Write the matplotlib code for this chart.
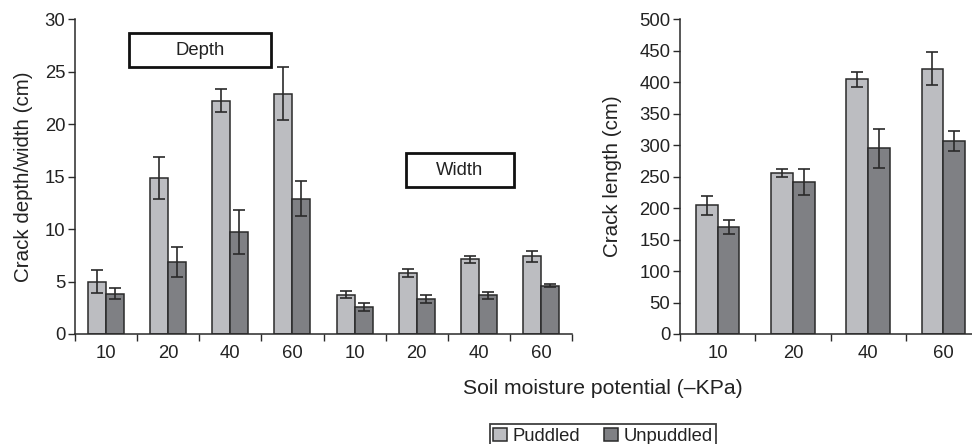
import matplotlib
matplotlib.use("Agg")
import matplotlib.pyplot as plt
from matplotlib.patches import Rectangle, Patch
import numpy as np

plt.rcParams['font.family'] = ['Liberation Sans', 'DejaVu Sans']

# ---- data ----
left_labels = ["10", "20", "40", "60", "10", "20", "40", "60"]
left_puddled = [5.0, 14.9, 22.2, 22.9, 3.75, 5.8, 7.1, 7.4]
left_puddled_err = [1.1, 2.0, 1.1, 2.5, 0.3, 0.38, 0.33, 0.5]
left_unpuddled = [3.85, 6.85, 9.7, 12.9, 2.6, 3.35, 3.7, 4.6]
left_unpuddled_err = [0.5, 1.4, 2.1, 1.7, 0.4, 0.4, 0.33, 0.12]

right_labels = ["10", "20", "40", "60"]
right_puddled = [204, 255, 404, 421]
right_puddled_err = [15, 6.5, 12.5, 26.5]
right_unpuddled = [170, 241, 295, 307]
right_unpuddled_err = [11.5, 21, 31, 16]

c_pud = "#bcbdc1"
c_unp = "#7f8084"
edge = "#2a2a2a"
txt = "#222222"

W, H = 972, 444
fig = plt.figure(figsize=(W / 100, H / 100), dpi=100)

axL = fig.add_axes([75 / W, 1 - 334 / H, 497 / W, 315 / H])
axR = fig.add_axes([680 / W, 1 - 334 / H, 301 / W, 315 / H])

def draw(ax, labels, p, pe, u, ue, ymax, ystep):
    x = np.arange(len(labels))
    bw = 0.29
    ekw = dict(ecolor=edge, elinewidth=1.2, capsize=4, capthick=1.2)
    ax.bar(x - bw / 2, p, bw, color=c_pud, edgecolor=edge, linewidth=1.1,
           yerr=pe, error_kw=ekw, zorder=2)
    ax.bar(x + bw / 2, u, bw, color=c_unp, edgecolor=edge, linewidth=1.1,
           yerr=ue, error_kw=ekw, zorder=2)
    ax.set_xlim(-0.5, len(labels) - 0.5)
    ax.set_ylim(0, ymax)
    ax.set_yticks(np.arange(0, ymax + 1, ystep))
    ax.set_xticks(x)
    ax.set_xticklabels(labels)
    ax.set_xticks(np.arange(len(labels) + 1) - 0.5, minor=True)
    ax.tick_params(axis='x', which='major', length=0, pad=8,
                   labelsize=13.3, colors=txt)
    ax.tick_params(axis='x', which='minor', length=5, width=1, direction='out',
                   color=edge)
    ax.tick_params(axis='y', length=5, width=1, direction='out',
                   labelsize=13.3, colors=txt, color=edge, pad=2)
    for s in ['top', 'right']:
        ax.spines[s].set_visible(False)
    for s in ['left', 'bottom']:
        ax.spines[s].set_color(edge)
        ax.spines[s].set_linewidth(1.1)

draw(axL, left_labels, left_puddled, left_puddled_err,
     left_unpuddled, left_unpuddled_err, 30, 5)
draw(axR, right_labels, right_puddled, right_puddled_err,
     right_unpuddled, right_unpuddled_err, 500, 50)

axL.set_ylabel("Crack depth/width (cm)", fontsize=14.8, color=txt, labelpad=8)
axR.set_ylabel("Crack length (cm)", fontsize=14.8, color=txt, labelpad=12)

# annotation boxes
for (x0, y0, w, h, s) in [(0.1087, 0.8467, 0.2857, 0.108, "Depth"),
                          (0.666, 0.4676, 0.2173, 0.106, "Width")]:
    axL.add_patch(Rectangle((x0, y0), w, h, transform=axL.transAxes,
                            facecolor='white', edgecolor='#111111',
                            linewidth=2, zorder=3, clip_on=False))
    axL.text(x0 + w / 2, y0 + h / 2, s, transform=axL.transAxes,
             ha='center', va='center', fontsize=13.3, color=txt, zorder=4)

fig.text(603 / W, 1 - 388 / H, "Soil moisture potential (\u2013KPa)",
         ha='center', va='center', fontsize=15.2, color=txt)

handles = [Patch(facecolor=c_pud, edgecolor=edge, linewidth=1.1, label="Puddled"),
           Patch(facecolor=c_unp, edgecolor=edge, linewidth=1.1, label="Unpuddled")]
leg = fig.legend(handles=handles, loc='upper center', ncol=2,
                 bbox_to_anchor=(603 / W, 1 - 424 / H), frameon=True,
                 fancybox=False, edgecolor='#111111', fontsize=13.3,
                 handlelength=0.75, handleheight=0.75, handletextpad=0.3,
                 columnspacing=1.3, borderpad=0.2, borderaxespad=0)
leg.get_frame().set_linewidth(1.3)
for t in leg.get_texts():
    t.set_color(txt)

fig.savefig("out.png", dpi=100)
